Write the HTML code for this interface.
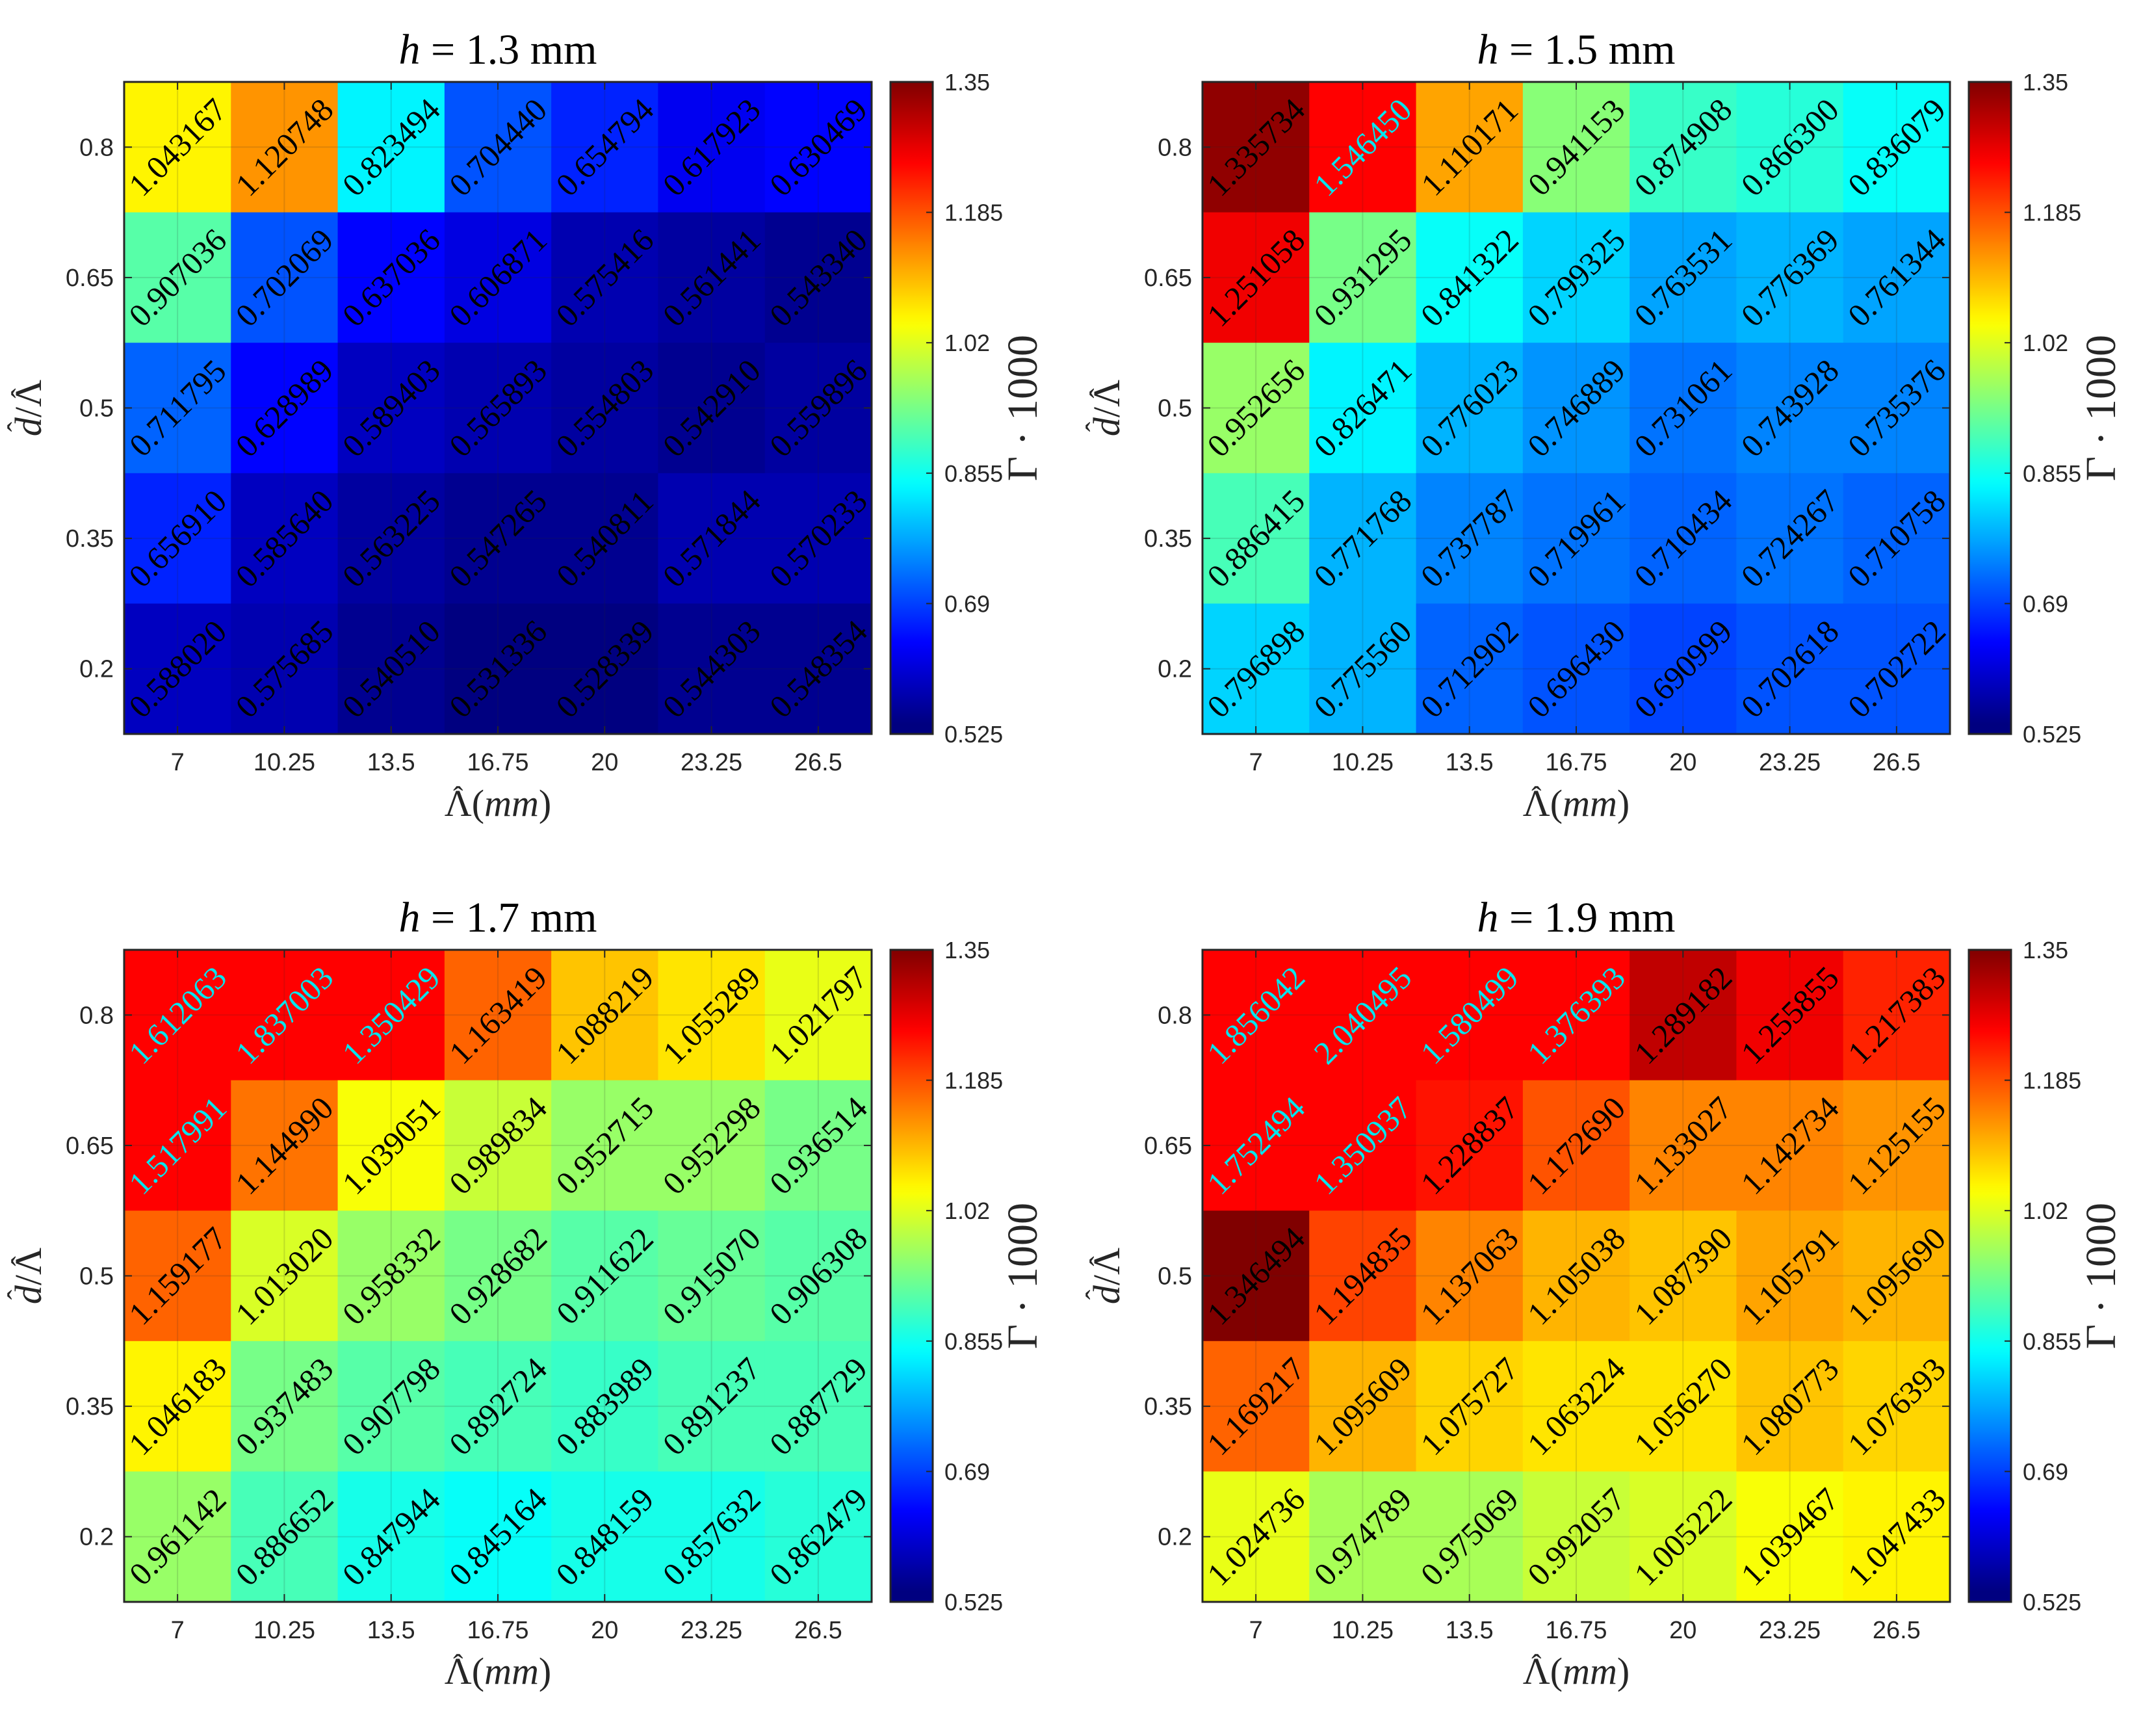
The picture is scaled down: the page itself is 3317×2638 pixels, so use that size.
<!DOCTYPE html>
<html><head><meta charset="utf-8"><style>
html,body{margin:0;padding:0;background:#fff;}
svg{display:block;}
</style></head><body>
<svg id="fig" xmlns="http://www.w3.org/2000/svg" width="3317" height="2638" viewBox="0 0 3317 2638"></svg>
<script>
const xCategories = ["7","10.25","13.5","16.75","20","23.25","26.5"];
const yCategories = ["0.8","0.65","0.5","0.35","0.2"];
const colorbarTicks = ["1.35","1.185","1.02","0.855","0.69","0.525"];
const titles = ["1.3","1.5","1.7","1.9"];
const cmin = 0.525, cmax = 1.35;
const values13 = [
 [1.043167,1.120748,0.823494,0.704440,0.654794,0.617923,0.630469],
 [0.907036,0.702069,0.637036,0.606871,0.575416,0.561441,0.543340],
 [0.711795,0.628989,0.589403,0.565893,0.554803,0.542910,0.559896],
 [0.656910,0.585640,0.563225,0.547265,0.540811,0.571844,0.570233],
 [0.588020,0.575685,0.540510,0.531336,0.528339,0.544303,0.548354]];
const values15 = [
 [1.335734,1.546450,1.110171,0.941153,0.874908,0.866300,0.836079],
 [1.251058,0.931295,0.841322,0.799325,0.763531,0.776369,0.761344],
 [0.952656,0.826471,0.776023,0.746889,0.731061,0.743928,0.735376],
 [0.886415,0.771768,0.737787,0.719961,0.710434,0.724267,0.710758],
 [0.796898,0.775560,0.712902,0.696430,0.690999,0.702618,0.702722]];
const values17 = [
 [1.612063,1.837003,1.350429,1.163419,1.088219,1.055289,1.021797],
 [1.517991,1.144990,1.039051,0.989834,0.952715,0.952298,0.936514],
 [1.159177,1.013020,0.958332,0.928682,0.911622,0.915070,0.906308],
 [1.046183,0.937483,0.907798,0.892724,0.883989,0.891237,0.887729],
 [0.961142,0.886652,0.847944,0.845164,0.848159,0.857632,0.862479]];
const values19 = [
 [1.856042,2.040495,1.580499,1.376393,1.289182,1.255855,1.217383],
 [1.752494,1.350937,1.228837,1.172690,1.133027,1.142734,1.125155],
 [1.346494,1.194835,1.137063,1.105038,1.087390,1.105791,1.095690],
 [1.169217,1.095609,1.075727,1.063224,1.056270,1.080773,1.076393],
 [1.024736,0.974789,0.975069,0.992057,1.005222,1.039467,1.047433]];
const allValues = [values13, values15, values17, values19];

const NS = "http://www.w3.org/2000/svg";
const svg = document.getElementById('fig');
function mk(tag, attrs, parent){const e=document.createElementNS(NS,tag);for(const k in attrs)e.setAttribute(k,attrs[k]);(parent||svg).appendChild(e);return e;}
function clamp(v){return Math.max(0,Math.min(1,v));}
function jet(t){
  t = Math.floor(clamp(t)*63.999)/63;
  const r=clamp(Math.min(4*t-1.5,-4*t+4.5)), g=clamp(Math.min(4*t-0.5,-4*t+3.5)), b=clamp(Math.min(4*t+0.5,-4*t+2.5));
  return `rgb(${Math.round(r*255)},${Math.round(g*255)},${Math.round(b*255)})`;
}
function addHat(textEl, charIndex, parent, lift){
  let cx, base=parseFloat(textEl.getAttribute('y'));
  try{const b=textEl.getExtentOfChar(charIndex);cx=b.x+b.width/2;}catch(e){cx=parseFloat(textEl.getAttribute('x'));}
  const h=mk('text',{x:cx,y:base-lift,'text-anchor':'middle','font-family':'"Liberation Serif",serif','font-size':46,fill:'#262626'},parent);
  h.textContent='ˆ';
  
  
}
const defs = mk('defs',{});
const grad = mk('linearGradient',{id:'jetgrad',x1:0,y1:1,x2:0,y2:0},defs);
for(let i=0;i<=64;i++){const t=i/64;mk('stop',{offset:t,'stop-color':jet(Math.min(t,0.9999))},grad);}

const PW=1150, PH=1003, CBX=1179, CBW=65;
const origins=[[191,126],[1850,126],[191,1461],[1850,1461]];
allValues.forEach((vals,p)=>{
  const [ox,oy]=origins[p];
  const g=mk('g',{});
  
  
  const cw=PW/xCategories.length, ch=PH/yCategories.length;
  const xScale=i=>ox+i*cw, yScale=j=>oy+j*ch;
  const cmap=v=> v>cmax ? 'rgb(255,0,0)' : jet((v-cmin)/(cmax-cmin));
  vals.forEach((row,j)=>row.forEach((v,i)=>{
    const r=mk('rect',{x:xScale(i),y:yScale(j),width:cw+0.5,height:ch+0.5,fill:cmap(v)},g);
    
    
  }));
  xCategories.forEach((c,i)=>{const x=xScale(i)+cw/2;mk('line',{x1:x,y1:oy,x2:x,y2:oy+PH,stroke:'rgba(38,38,38,0.15)','stroke-width':2},g);
    mk('line',{x1:x,y1:oy+PH,x2:x,y2:oy+PH-12,stroke:'#262626','stroke-width':2},g);mk('line',{x1:x,y1:oy,x2:x,y2:oy+12,stroke:'#262626','stroke-width':2},g);});
  yCategories.forEach((c,j)=>{const y=yScale(j)+ch/2;mk('line',{x1:ox,y1:y,x2:ox+PW,y2:y,stroke:'rgba(38,38,38,0.15)','stroke-width':2},g);
    mk('line',{x1:ox,y1:y,x2:ox+12,y2:y,stroke:'#262626','stroke-width':2},g);mk('line',{x1:ox+PW,y1:y,x2:ox+PW-12,y2:y,stroke:'#262626','stroke-width':2},g);});
  vals.forEach((row,j)=>row.forEach((v,i)=>{
    const cx=xScale(i)+cw/2, cy=yScale(j)+ch/2;
    const t=mk('text',{x:cx,y:cy,'text-anchor':'middle','dominant-baseline':'central','font-family':'"Liberation Serif",serif','font-size':50,fill:v>cmax?'#00e5ee':'#000',transform:`rotate(-45 ${cx} ${cy})`},g);
    t.textContent=v.toFixed(6);
    
    
  }));
  mk('rect',{x:ox,y:oy,width:PW,height:PH,fill:'none',stroke:'#262626','stroke-width':3},g);
  xCategories.forEach((c,i)=>{const t=mk('text',{x:xScale(i)+cw/2,y:oy+PH+56,'text-anchor':'middle','font-family':'"Liberation Sans",sans-serif','font-size':38,fill:'#262626'},g);t.textContent=c;
    });
  yCategories.forEach((c,j)=>{const t=mk('text',{x:ox-16,y:yScale(j)+ch/2+13,'text-anchor':'end','font-family':'"Liberation Sans",sans-serif','font-size':38,fill:'#262626'},g);t.textContent=c;
    });
  const tt=mk('text',{x:ox+PW/2,y:oy-28,'text-anchor':'middle','font-family':'"Liberation Serif",serif','font-size':66,fill:'#000'},g);
  tt.innerHTML=`<tspan font-style="italic">h</tspan> = ${titles[p]} mm`;
  
  // x label
  const xl=mk('text',{x:ox+PW/2,y:oy+PH+126,'text-anchor':'middle','font-family':'"Liberation Serif",serif','font-size':58,fill:'#262626'},g);
  xl.innerHTML='Λ(<tspan font-style="italic">mm</tspan>)';
  
  addHat(xl,0,g,14);
  // y label (laid out horizontally, then rotated)
  const yx=ox-148, yy=oy+PH/2;
  const yg=mk('g',{transform:`rotate(-90 ${yx} ${yy})`},g);
  
  const yl=mk('text',{x:yx,y:yy+20,'text-anchor':'middle','font-family':'"Liberation Serif",serif','font-size':58,fill:'#262626'},yg);
  yl.innerHTML='<tspan font-style="italic">d</tspan>/Λ';
  
  addHat(yl,0,yg,20);
  addHat(yl,2,yg,14);
  const cbx=ox+CBX;
  const cb=mk('rect',{x:cbx,y:oy,width:CBW,height:PH,fill:'url(#jetgrad)',stroke:'#262626','stroke-width':3},g);
  
  colorbarTicks.forEach((c,k)=>{const y=oy+PH*(cmax-parseFloat(c))/(cmax-cmin);
    mk('line',{x1:cbx+CBW,y1:y,x2:cbx+CBW-10,y2:y,stroke:'#262626','stroke-width':2},g);
    const t=mk('text',{x:cbx+CBW+18,y:y+13,'font-family':'"Liberation Sans",sans-serif','font-size':36,fill:'#262626'},g);t.textContent=c;
    });
  const gx=cbx+CBW+160, gy=oy+PH/2;
  const gl=mk('text',{x:gx,y:gy,'text-anchor':'middle','font-family':'"Liberation Serif",serif','font-size':66,fill:'#262626',transform:`rotate(-90 ${gx} ${gy})`},g);
  gl.textContent='Γ · 1000';
  
});
</script>
</body></html>
